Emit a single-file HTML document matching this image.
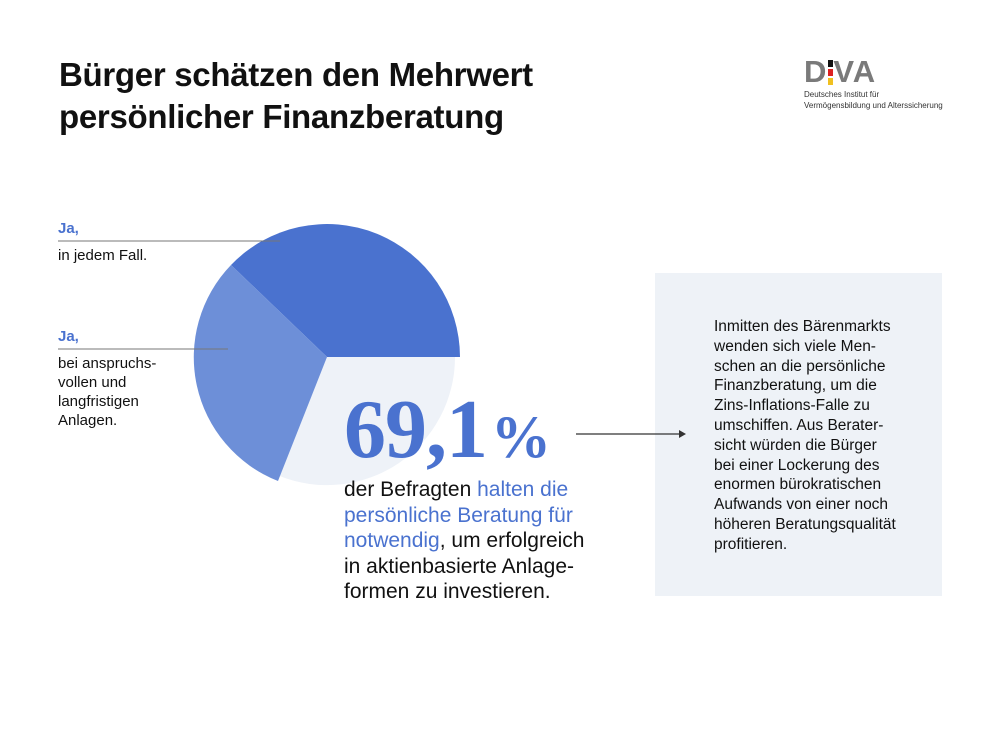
<!DOCTYPE html>
<html><head><meta charset="utf-8"><style>
body{margin:0;width:1000px;height:750px;background:#fff;position:relative;font-family:"Liberation Sans",sans-serif;color:#111;overflow:hidden}
.a{position:absolute}
</style></head><body>
<div class="a" style="left:59px;top:54px;font-size:33px;font-weight:bold;line-height:42px;letter-spacing:-0.3px">Bürger schätzen den Mehrwert<br>persönlicher Finanzberatung</div>
<div class="a" style="left:804px;top:55px;font-size:31px;font-weight:bold;color:#7a7a7a;letter-spacing:1px;line-height:34px">D<span style="display:inline-block;width:6px"></span>VA</div>
<div class="a" style="left:828px;top:60px;width:5px;height:7px;background:#111"></div>
<div class="a" style="left:828px;top:69px;width:5px;height:7px;background:#d22"></div>
<div class="a" style="left:828px;top:78px;width:5px;height:7px;background:#f0c020"></div>
<div class="a" style="left:804px;top:89px;font-size:8px;line-height:11px;color:#333">Deutsches Institut für<br>Vermögensbildung und Alterssicherung</div>

<div class="a" style="left:655px;top:273px;width:287px;height:323px;background:#eef2f7"></div>

<svg class="a" style="left:0;top:0" width="1000" height="750">
<path d="M327,357 L279.5,476 A128,128 0 0 0 455,357 Z" fill="#eef2f8"/>
<path d="M327,357 L460,357 A133,133 0 0 0 231,265 Z" fill="#4a72cf"/>
<path d="M327,357 L231,265 A133,133 0 0 0 278,481 Z" fill="#6d8fd8"/>
<line x1="58" y1="241" x2="280" y2="241" stroke="#777" stroke-width="1"/>
<line x1="58" y1="349" x2="228" y2="349" stroke="#777" stroke-width="1"/>
<line x1="576" y1="434" x2="680" y2="434" stroke="#333" stroke-width="1.3"/>
<path d="M679,430 L686,434 L679,438 Z" fill="#333"/>
</svg>

<div class="a" style="left:58px;top:220px;font-size:15px;font-weight:bold;color:#4a72cf">Ja,</div>
<div class="a" style="left:58px;top:247px;font-size:15px">in jedem Fall.</div>
<div class="a" style="left:58px;top:328px;font-size:15px;font-weight:bold;color:#4a72cf">Ja,</div>
<div class="a" style="left:58px;top:354px;font-size:15px;line-height:19px">bei anspruchs-<br>vollen und<br>langfristigen<br>Anlagen.</div>

<div class="a" style="left:344px;top:385px;font-family:'Liberation Serif',serif;font-weight:bold;font-size:84px;color:#4a72cf;letter-spacing:-1px;line-height:90px;white-space:nowrap">69,1<span style="font-size:60px;margin-left:4px">%</span></div>
<div class="a" style="left:344px;top:477px;font-size:21px;line-height:25.5px">der Befragten <span style="color:#4a72cf">halten die<br>persönliche Beratung für<br>notwendig</span>, um erfolgreich<br>in aktienbasierte Anlage-<br>formen zu investieren.</div>

<div class="a" style="left:714px;top:317px;font-size:15.5px;line-height:19.8px;color:#111">Inmitten des Bärenmarkts<br>wenden sich viele Men-<br>schen an die persönliche<br>Finanzberatung, um die<br>Zins-Inflations-Falle zu<br>umschiffen. Aus Berater-<br>sicht würden die Bürger<br>bei einer Lockerung des<br>enormen bürokratischen<br>Aufwands von einer noch<br>höheren Beratungsqualität<br>profitieren.</div>
</body></html>
